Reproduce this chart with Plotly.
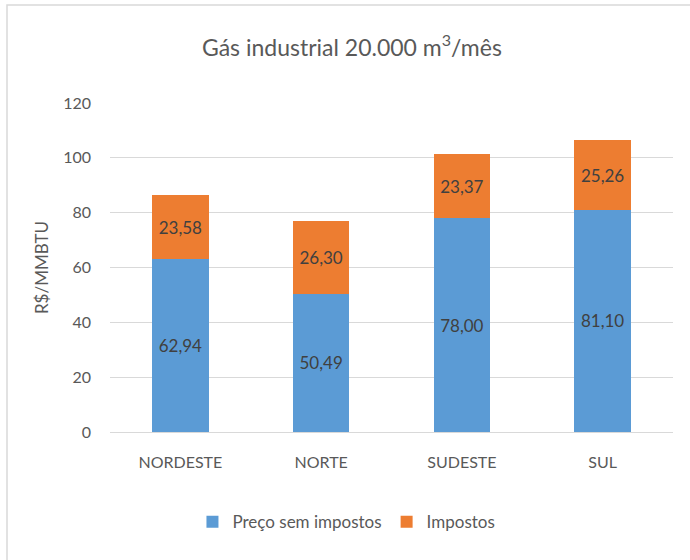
import plotly.graph_objects as go

categories = ["NORDESTE", "NORTE", "SUDESTE", "SUL"]
preco_sem_impostos = [62.94, 50.49, 78.00, 81.10]
impostos = [23.58, 26.30, 23.37, 25.26]
y_ticks = [0, 20, 40, 60, 80, 100, 120]

def br(v):
    return f"{v:.2f}".replace(".", ",")

FONT = "Lato"

fig = go.Figure()
fig.add_trace(go.Bar(
    name="Preço sem impostos", x=categories, y=preco_sem_impostos,
    marker=dict(color="#5B9BD5", line=dict(width=0)),
    text=[br(v) for v in preco_sem_impostos], textposition="inside",
    insidetextanchor="middle", textangle=0,
    textfont=dict(family=FONT, size=17, color="#404040"),
))
fig.add_trace(go.Bar(
    name="Impostos", x=categories, y=impostos,
    marker=dict(color="#ED7D31", line=dict(width=0)),
    text=[br(v) for v in impostos], textposition="inside",
    insidetextanchor="middle", textangle=0,
    textfont=dict(family=FONT, size=17, color="#404040"),
))

fig.update_layout(
    width=690, height=560,
    barmode="stack", bargap=0.6,
    paper_bgcolor="white", plot_bgcolor="white",
    margin=dict(l=110, r=17, t=103, b=128),
    title=dict(text="Gás industrial 20.000 m<sup>3</sup>/mês", x=0.51, xanchor="center",
               y=0.915, yanchor="middle",
               font=dict(family=FONT, size=23, color="#595959")),
    font=dict(family=FONT, color="#595959"),
    xaxis=dict(showgrid=False, showline=True, linecolor="#D9D9D9", linewidth=1,
               tickfont=dict(size=16, color="#595959"), ticks="",
               ticklabelstandoff=16),
    yaxis=dict(range=[0, 120], tickvals=y_ticks, showgrid=True, gridcolor="#D9D9D9",
               gridwidth=1, zeroline=False, ticks="",
               tickfont=dict(size=16, color="#595959"), ticklabelstandoff=18,
               title=dict(text="R$/MMBTU", font=dict(size=17, color="#595959"), standoff=10)),
    legend=dict(orientation="h", x=0.42, xanchor="center", y=-0.274, yanchor="middle",
                font=dict(size=17, color="#595959"), traceorder="normal"),
    shapes=[dict(type="rect", xref="paper", yref="paper",
                 x0=(7 - 110) / 563, x1=(700 - 110) / 563,
                 y0=(432 - 570) / 329, y1=(432 - 5) / 329,
                 line=dict(color="#D9D9D9", width=1.5), layer="below")],
)

fig.write_html("out.html", config={"displayModeBar": False},
               post_script="document.body.style.margin='0';document.body.style.padding='0';window.dispatchEvent(new Event('resize'));")
